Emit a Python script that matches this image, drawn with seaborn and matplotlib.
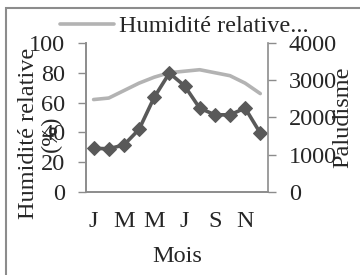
import matplotlib
matplotlib.use('Agg')
import matplotlib.pyplot as plt
import matplotlib.patches as patches
import numpy as np
import pandas as pd
import seaborn as sns

months = ['J', 'F', 'M', 'A', 'M', 'J', 'J', 'A', 'S', 'O', 'N', 'D']
humidite = [62, 63, 68, 73, 77, 80, 81, 82, 80, 78, 73, 66]
paludisme = [1170, 1160, 1260, 1680, 2540, 3190, 2850, 2250, 2070, 2070, 2250, 1580]

df = pd.DataFrame({
    'pos': np.arange(len(months)),
    'mois': months,
    'humidite': humidite,
    'paludisme': paludisme,
})

sns.set_style('white')
plt.rcParams['font.family'] = ['Liberation Serif', 'DejaVu Serif']
plt.rcParams['font.size'] = 17.5

fig = plt.figure(figsize=(3.6, 2.75), dpi=100)
ax = fig.add_axes([0.239, 0.302, 0.505, 0.542])
ax2 = ax.twinx()

sns.lineplot(data=df, x='pos', y='humidite', ax=ax, color='#b3b3b3',
             lw=2.6, label='Humidité relative...', legend=False)
sns.lineplot(data=df, x='pos', y='paludisme', ax=ax2, color='#595959',
             lw=2.6, marker='D', markersize=7, markeredgecolor='#595959',
             legend=False)

ax.set_ylim(0, 100)
ax.set_yticks(range(0, 101, 20))
ax2.set_ylim(0, 4000)
ax2.set_yticks(range(0, 4001, 1000))
ax.set_xlim(-0.5, 11.5)

# category boundaries as ticks, month labels on every other month
ax.set_xticks(np.arange(-0.5, 12, 1))
ax.set_xticklabels([])
ax.set_xticks(df['pos'][::2], minor=True)
ax.set_xticklabels(df['mois'][::2], minor=True)
ax.tick_params(axis='x', which='major', length=6, width=1, color='#8c8c8c',
               direction='out')
ax.tick_params(axis='x', which='minor', length=0, pad=14)
ax.tick_params(axis='y', length=6, width=1, color='#8c8c8c', pad=9,
               direction='out', left=True)
ax2.tick_params(axis='y', length=6, width=1, color='#8c8c8c', pad=9,
                direction='out', right=True)

for a in (ax, ax2):
    for side in ('left', 'right', 'bottom'):
        a.spines[side].set_color('#8c8c8c')
        a.spines[side].set_linewidth(1.2)
    a.spines['top'].set_visible(False)
ax.spines['right'].set_visible(False)

ax.set_xlabel('Mois', labelpad=10)
ax.set_ylabel('Humidité relative\n(%)', linespacing=1.1)
ax.yaxis.set_label_coords(-0.135, 0.39)
ax2.set_ylabel('Paludisme', labelpad=-3)

handles, labels = ax.get_legend_handles_labels()
fig.legend(handles, labels, loc='center left', bbox_to_anchor=(0.168, 0.905),
           frameon=False, handlelength=2.2, handletextpad=0.2,
           borderaxespad=0, borderpad=0)

fig.patches.append(patches.Rectangle(
    (0.017, -0.2), 1.2, 1.171, transform=fig.transFigure, fill=False,
    edgecolor='#8c8c8c', lw=1.5))

fig.savefig('out.png', dpi=100)
